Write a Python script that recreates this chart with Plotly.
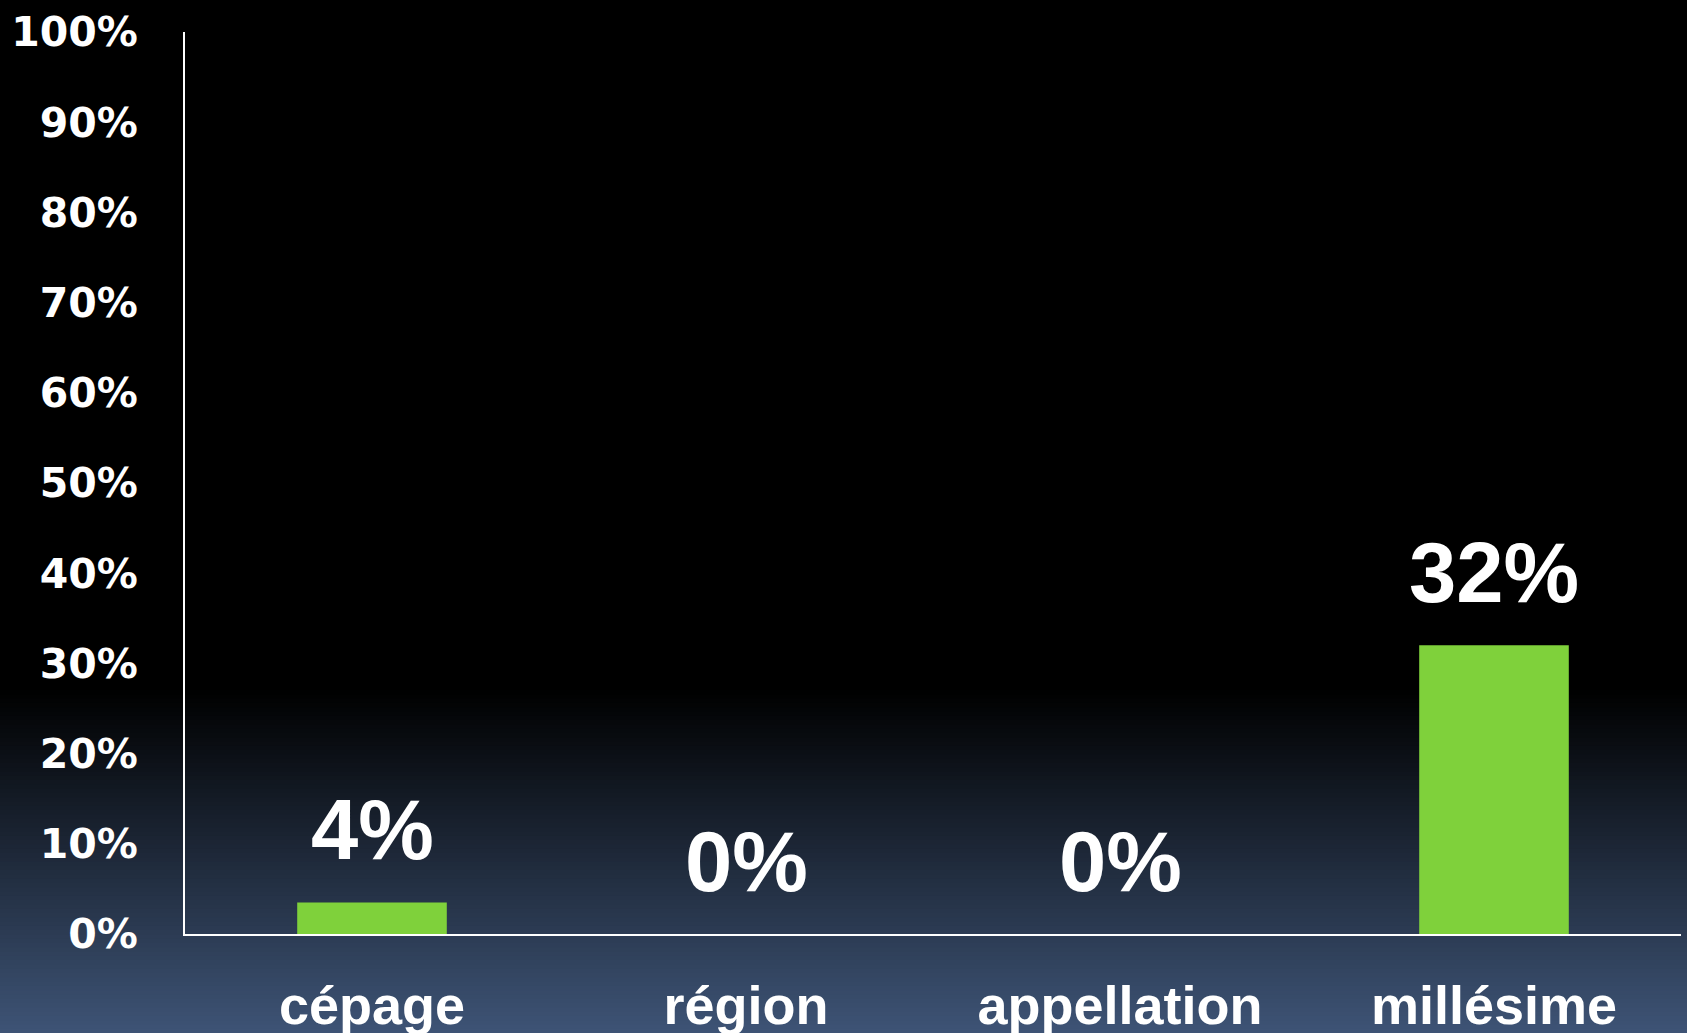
import plotly.graph_objects as go

categories = ["cépage", "région", "appellation", "millésime"]
values = [3.5, 0, 0, 32]
labels = ["4%", "0%", "0%", "32%"]
y_ticks = [0, 10, 20, 30, 40, 50, 60, 70, 80, 90, 100]
y_ticktext = [f"{v}%" for v in y_ticks]

W, H = 1687, 1033
ML, MR, MT, MB = 185, 6, 32, 99
plot_h = H - MT - MB

fig = go.Figure()
fig.add_trace(go.Bar(
    x=categories, y=values,
    marker=dict(color="#7FD13B", line=dict(width=0)),
    hoverinfo="skip",
))

for c, v, t in zip(categories, values, labels):
    fig.add_annotation(
        x=c, y=v, text=t, showarrow=False,
        yanchor="middle", yshift=73,
        font=dict(family="Liberation Sans, Arial, sans-serif", size=85, color="white", weight="bold"),
    )

# vertical background gradient (black -> slate blue) via stacked shapes
g_start, g_end = 690, H
c0 = (0, 0, 0)
c1 = (62, 84, 118)
N = 80
shapes = []
for i in range(N):
    p0 = g_start + (g_end - g_start) * i / N
    p1 = g_start + (g_end - g_start) * (i + 1) / N + 1
    f = (i + 0.5) / N
    col = tuple(round(c0[k] + (c1[k] - c0[k]) * f) for k in range(3))
    shapes.append(dict(
        type="rect", xref="paper", yref="paper", layer="below",
        x0=-ML / (W - ML - MR) - 0.01, x1=1 + MR / (W - ML - MR) + 0.01,
        y0=(H - MB - p1) / plot_h, y1=(H - MB - p0) / plot_h,
        fillcolor="rgb(%d,%d,%d)" % col, line=dict(width=0),
    ))

fig.update_layout(
    width=W, height=H,
    margin=dict(l=ML, r=MR, t=MT, b=MB, pad=0, autoexpand=False),
    paper_bgcolor="black",
    plot_bgcolor="rgba(0,0,0,0)",
    showlegend=False,
    bargap=0.6,
    shapes=shapes,
    xaxis=dict(
        automargin=False,
        showline=True, linecolor="white", linewidth=2,
        showgrid=False, zeroline=False, ticks="",
        ticklabelstandoff=23,
        tickfont=dict(family="Liberation Sans, Arial, sans-serif", size=54, color="white", weight="bold"),
    ),
    yaxis=dict(
        automargin=False,
        range=[0, 100],
        tickvals=y_ticks, ticktext=y_ticktext,
        showline=True, linecolor="white", linewidth=2,
        showgrid=False, zeroline=False, ticks="",
        ticklabelstandoff=37,
        tickfont=dict(family="DejaVu Sans, sans-serif", size=41, color="white", weight="bold"),
    ),
)

fig.write_html(
    "out.html",
    config={"displayModeBar": False},
    post_script="document.body.style.margin='0';document.body.style.background='black';",
)
